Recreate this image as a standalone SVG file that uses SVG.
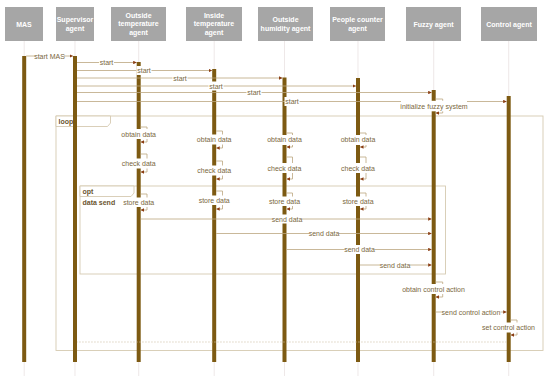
<svg xmlns="http://www.w3.org/2000/svg" width="550" height="380" viewBox="0 0 550 380">
<style>
.hd rect{fill:#a6a6a6}
.hd text{font-family:"Liberation Sans",Arial,sans-serif;font-size:7px;font-weight:bold;fill:#fff;text-anchor:middle}
.life{stroke:#e2d8d8;stroke-width:0.6;fill:none}
.bar{fill:#7d5a12}
.msg{stroke:#bba67f;stroke-width:0.8;fill:none}
.self{stroke:#bba67f;stroke-width:0.8;fill:none}
.ret{stroke:#cfc2a6;stroke-width:0.7;fill:none;stroke-dasharray:1.5 1.5}
.frame{stroke:#d6cab1;stroke-width:0.9;fill:none}
.tab{stroke:#d6cab1;stroke-width:0.9;fill:#fff}
.ft{font-family:"Liberation Sans",Arial,sans-serif;font-size:7px;font-weight:bold;fill:#6b5530}
.lb{font-family:"Liberation Sans",Arial,sans-serif;font-size:7px;fill:#7a6740;text-anchor:middle}
.bg{fill:#fff}
</style>
<defs>
<marker id="ah" viewBox="0 0 6 6" refX="6" refY="3" markerWidth="3.5" markerHeight="3.5" orient="auto" markerUnits="userSpaceOnUse"><path d="M0,0 L6,3 L0,6 z" fill="#8a3c12"/></marker>
</defs>

<g id="frames">
<rect class="frame" x="56" y="116" width="487" height="234.5"/>
<path class="tab" d="M56,116 H110.5 V123 L107.5,126.5 H56 Z"/>
<text class="ft" x="58.5" y="124">loop</text>
<rect class="frame" x="80" y="186" width="365.5" height="88"/>
<path class="tab" d="M80,186 H134 V193 L131,196.5 H80 Z"/>
<text class="ft" x="82.5" y="194">opt</text>
<text class="ft" x="82.5" y="204.5">data send</text>
</g>

<g id="lifelines">
<line class="life" x1="24.2" y1="41" x2="24.2" y2="376"/>
<line class="life" x1="75" y1="41" x2="75" y2="376"/>
<line class="life" x1="138.7" y1="41" x2="138.7" y2="376"/>
<line class="life" x1="214.2" y1="41" x2="214.2" y2="376"/>
<line class="life" x1="284.5" y1="41" x2="284.5" y2="376"/>
<line class="life" x1="358" y1="41" x2="358" y2="376"/>
<line class="life" x1="433.7" y1="41" x2="433.7" y2="376"/>
<line class="life" x1="508.7" y1="41" x2="508.7" y2="376"/>
</g>

<g id="node-mas">
<g class="hd"><rect x="5" y="7" width="38" height="34"/><text x="24" y="26.5">MAS</text></g>
<rect class="bar" x="22.2" y="56" width="4" height="306"/>
</g>
<g id="node-supervisor">
<g class="hd"><rect x="56" y="7" width="38" height="34"/><text x="75" y="21.5">Supervisor</text><text x="75" y="30.5">agent</text></g>
<rect class="bar" x="73" y="56" width="4" height="306"/>
</g>
<g id="node-outside-temp">
<g class="hd"><rect x="111" y="7" width="55" height="34"/><text x="138.5" y="17.5">Outside</text><text x="138.5" y="26">temperature</text><text x="138.5" y="34.5">agent</text></g>
<rect class="bar" x="136.7" y="62" width="4" height="300"/>
</g>
<g id="node-inside-temp">
<g class="hd"><rect x="186" y="7" width="56" height="34"/><text x="214" y="17.5">Inside</text><text x="214" y="26">temperature</text><text x="214" y="34.5">agent</text></g>
<rect class="bar" x="212.2" y="69" width="4" height="293"/>
</g>
<g id="node-outside-humidity">
<g class="hd"><rect x="258" y="7" width="55" height="34"/><text x="285.5" y="21.5">Outside</text><text x="285.5" y="30.5">humidity agent</text></g>
<rect class="bar" x="282.5" y="77.5" width="4" height="284.5"/>
</g>
<g id="node-people-counter">
<g class="hd"><rect x="330" y="7" width="55" height="34"/><text x="357.5" y="21.5">People counter</text><text x="357.5" y="30.5">agent</text></g>
<rect class="bar" x="356" y="78" width="4" height="284"/>
</g>
<g id="node-fuzzy">
<g class="hd"><rect x="406" y="7" width="55" height="34"/><text x="433.5" y="26.5">Fuzzy agent</text></g>
<rect class="bar" x="431.7" y="90" width="4" height="272"/>
</g>
<g id="node-control">
<g class="hd"><rect x="481" y="7" width="56" height="34"/><text x="509" y="26.5">Control agent</text></g>
<rect class="bar" x="506.7" y="96" width="4" height="266"/>
</g>

<g id="connectors">
<path class="msg" d="M26.2,56 H73" marker-end="url(#ah)"/>
<path class="msg" d="M77,62.5 H136.7" marker-end="url(#ah)"/>
<path class="msg" d="M77,70.5 H212.2" marker-end="url(#ah)"/>
<path class="msg" d="M77,78 H282.5" marker-end="url(#ah)"/>
<path class="msg" d="M77,86 H356" marker-end="url(#ah)"/>
<path class="msg" d="M77,92.5 H431.7" marker-end="url(#ah)"/>
<path class="msg" d="M77,101.5 H506.7" marker-end="url(#ah)"/>
<path class="self" d="M435.7,99 H442.7 V113 H435.7" marker-end="url(#ah)"/>

<path class="self" d="M140.7,127 H147 V142 H140.7" marker-end="url(#ah)"/>
<path class="self" d="M140.7,154 H147 V172 H140.7" marker-end="url(#ah)"/>
<path class="self" d="M140.7,194 H147 V210 H140.7" marker-end="url(#ah)"/>
<path class="self" d="M216.2,131 H222.5 V148 H216.2" marker-end="url(#ah)"/>
<path class="self" d="M216.2,161 H222.5 V179 H216.2" marker-end="url(#ah)"/>
<path class="self" d="M216.2,191 H222.5 V209 H216.2" marker-end="url(#ah)"/>
<path class="self" d="M286.5,133 H292.5 V147 H286.5" marker-end="url(#ah)"/>
<path class="self" d="M286.5,157 H292.5 V179 H286.5" marker-end="url(#ah)"/>
<path class="self" d="M286.5,193 H292.5 V209 H286.5" marker-end="url(#ah)"/>
<path class="self" d="M360,133 H366 V147 H360" marker-end="url(#ah)"/>
<path class="self" d="M360,157 H366 V179 H360" marker-end="url(#ah)"/>
<path class="self" d="M360,193 H366 V209 H360" marker-end="url(#ah)"/>

<path class="msg" d="M140.7,219 H431.7" marker-end="url(#ah)"/>
<path class="msg" d="M216.2,233.5 H431.7" marker-end="url(#ah)"/>
<path class="msg" d="M286.5,249.5 H431.7" marker-end="url(#ah)"/>
<path class="msg" d="M360,265 H431.7" marker-end="url(#ah)"/>

<path class="self" d="M435.7,282 H442.7 V297 H435.7" marker-end="url(#ah)"/>
<path class="msg" d="M435.7,312 H506.7" marker-end="url(#ah)"/>
<path class="self" d="M510.7,320 H517 V335 H510.7" marker-end="url(#ah)"/>
<path class="ret" d="M506.7,342 H77"/>
</g>

<g id="labels">
<rect class="bg" x="35" y="52" width="29" height="8.5"/><text class="lb" x="49.5" y="58.5">start MAS</text>
<rect class="bg" x="99" y="58" width="15" height="8.5"/><text class="lb" x="106.5" y="65">start</text>
<rect class="bg" x="136.5" y="66" width="15" height="9"/><text class="lb" x="144" y="73">start</text>
<rect class="bg" x="172.5" y="73.5" width="15" height="8.5"/><text class="lb" x="180" y="80.5">start</text>
<rect class="bg" x="208.5" y="81.5" width="15" height="9"/><text class="lb" x="216" y="88.5">start</text>
<rect class="bg" x="246.5" y="88" width="15" height="8.5"/><text class="lb" x="254" y="95">start</text>
<rect class="bg" x="284.5" y="97" width="15" height="9"/><text class="lb" x="292" y="104">start</text>
<rect class="bg" x="401" y="100.8" width="66" height="10.5"/><text class="lb" x="434" y="109">initialize fuzzy system</text>

<rect class="bg" x="121" y="129" width="35" height="10"/><text class="lb" x="138.7" y="136.5">obtain data</text>
<rect class="bg" x="122" y="158.5" width="33" height="10"/><text class="lb" x="138.7" y="166">check data</text>
<rect class="bg" x="123" y="197.5" width="31" height="9.5"/><text class="lb" x="138.7" y="204.5">store data</text>
<rect class="bg" x="196.5" y="134.5" width="35" height="10"/><text class="lb" x="214.2" y="141.5">obtain data</text>
<rect class="bg" x="197.5" y="165.5" width="33" height="10"/><text class="lb" x="214.2" y="172.5">check data</text>
<rect class="bg" x="198.5" y="195.5" width="31" height="9.5"/><text class="lb" x="214.2" y="202.5">store data</text>
<rect class="bg" x="267" y="135" width="35" height="10"/><text class="lb" x="284.5" y="142">obtain data</text>
<rect class="bg" x="268" y="163" width="33" height="10"/><text class="lb" x="284.5" y="170.5">check data</text>
<rect class="bg" x="269" y="196.5" width="31" height="9.5"/><text class="lb" x="284.5" y="203.5">store data</text>
<rect class="bg" x="340.5" y="135" width="35" height="10"/><text class="lb" x="358" y="142">obtain data</text>
<rect class="bg" x="341.5" y="163" width="33" height="10"/><text class="lb" x="358" y="170.5">check data</text>
<rect class="bg" x="342.5" y="196.5" width="31" height="9.5"/><text class="lb" x="358" y="203.5">store data</text>

<rect class="bg" x="272" y="214.5" width="30" height="9"/><text class="lb" x="287" y="221.5">send data</text>
<rect class="bg" x="309" y="229" width="30" height="9"/><text class="lb" x="324" y="236">send data</text>
<rect class="bg" x="344.5" y="245" width="30" height="9"/><text class="lb" x="359.5" y="252">send data</text>
<rect class="bg" x="380" y="260.5" width="30" height="9"/><text class="lb" x="395" y="267.5">send data</text>

<rect class="bg" x="401.5" y="284" width="64" height="10"/><text class="lb" x="433.5" y="291.5">obtain control action</text>
<rect class="bg" x="441.5" y="307.5" width="59" height="9"/><text class="lb" x="471" y="314.5">send control action</text>
<rect class="bg" x="481.5" y="322.5" width="54" height="10"/><text class="lb" x="508.5" y="330">set control action</text>
</g>
</svg>
